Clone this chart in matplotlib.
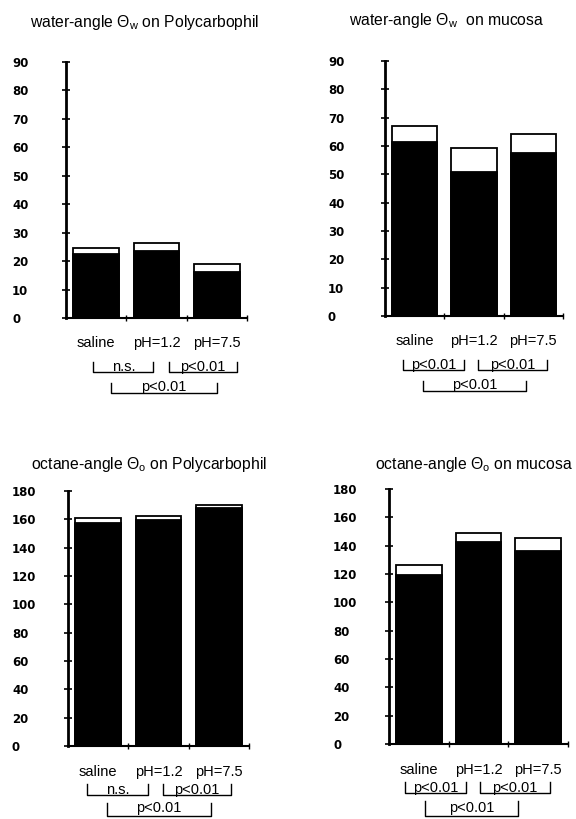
import matplotlib
matplotlib.use("Agg")
import matplotlib.pyplot as plt
from matplotlib.transforms import blended_transform_factory
import numpy as np

plt.rcParams['font.family'] = ['Liberation Sans', 'DejaVu Sans']
plt.rcParams['mathtext.fontset'] = 'custom'
plt.rcParams['mathtext.rm'] = 'Liberation Sans'
plt.rcParams['mathtext.it'] = 'Liberation Sans:italic'

categories = ["saline", "pH=1.2", "pH=7.5"]

# mean (black) and mean+SD (white top) values
water_pc_mean = [22.5, 23.7, 16.3]
water_pc_top = [24.7, 26.5, 19.0]
water_mu_mean = [61.3, 50.7, 57.5]
water_mu_top = [67.0, 59.4, 64.1]
oct_pc_mean = [157.6, 159.5, 168.2]
oct_pc_top = [160.6, 162.5, 170.3]
oct_mu_mean = [119.6, 142.9, 136.5]
oct_mu_top = [126.2, 149.2, 145.3]

titles = ["water-angle $\\Theta_{\\rm w}$ on Polycarbophil",
          "water-angle $\\Theta_{\\rm w}$  on mucosa",
          "octane-angle $\\Theta_{\\rm o}$ on Polycarbophil",
          "octane-angle $\\Theta_{\\rm o}$ on mucosa"]

water_ticks = list(range(0, 91, 10))
oct_ticks = list(range(0, 181, 20))

# significance labels: (x start, x end, row, text)
sig_pc_w = [(0.45, 1.45, 0, "n.s."), (1.70, 2.83, 0, "p<0.01"), (0.75, 2.50, 1, "p<0.01")]
sig_mu_w = [(0.30, 1.33, 0, "p<0.01"), (1.57, 2.73, 0, "p<0.01"), (0.64, 2.38, 1, "p<0.01")]
sig_pc_o = [(0.32, 1.33, 0, "n.s."), (1.58, 2.70, 0, "p<0.01"), (0.65, 2.37, 1, "p<0.01")]
sig_mu_o = [(0.27, 1.29, 0, "p<0.01"), (1.53, 2.70, 0, "p<0.01"), (0.60, 2.16, 1, "p<0.01")]

W, H = 576, 819
fig = plt.figure(figsize=(W / 100, H / 100), dpi=100)

# axes boxes in pixels: left, right, top, bottom
boxes = [(66, 247, 62, 318), (385, 563, 61, 316), (68, 249, 491, 746), (389, 568, 489, 744)]
label_left = [12, 328, 12, 333]
title_pos = [(145, 22), (447, 21), (149, 465), (474, 464)]
# pixel offsets below axis: category label, then per row (tick top, line, text centre)
cat_off = [25, 25, 26, 26]
row_off = [
    [(44, 54, 49), (65, 75, 69)],
    [(44, 54, 49), (65, 75, 69)],
    [(38, 49, 44), (57, 70, 62)],
    [(38, 49, 44), (57, 72, 64)],
]

panels = [
    (water_pc_mean, water_pc_top, water_ticks, 90, sig_pc_w),
    (water_mu_mean, water_mu_top, water_ticks, 90, sig_mu_w),
    (oct_pc_mean, oct_pc_top, oct_ticks, 180, sig_pc_o),
    (oct_mu_mean, oct_mu_top, oct_ticks, 180, sig_mu_o),
]

for i, (mean, top, ticks, ymax, sigs) in enumerate(panels):
    l, r, t, b = boxes[i]
    ax = fig.add_axes([l / W, 1 - b / H, (r - l) / W, (b - t) / H])
    x = np.arange(len(categories)) + 0.5
    ax.bar(x, top, width=0.76, color='white', edgecolor='black', linewidth=1.3, zorder=2)
    ax.bar(x, mean, width=0.76, color='black', edgecolor='black', linewidth=1.3, zorder=3)
    ax.set_xlim(0, 3)
    ax.set_ylim(0, ymax)
    for s in ['top', 'right']:
        ax.spines[s].set_visible(False)
    ax.spines['left'].set_linewidth(2.0)
    ax.spines['bottom'].set_linewidth(1.5)
    ax.set_yticks(ticks)
    ax.set_yticklabels([str(v) for v in ticks])
    pad_pt = (l - label_left[i]) * 0.72 - 3
    ax.tick_params(axis='y', direction='inout', length=6, width=1.2, pad=pad_pt)
    for lab in ax.get_yticklabels():
        lab.set_ha('left')
        lab.set_fontweight('bold')
        lab.set_fontsize(8.5)
        lab.set_fontfamily(['DejaVu Sans'])
    ax.set_xticks([1, 2, 3])
    ax.set_xticklabels([])
    ax.tick_params(axis='x', direction='inout', length=5, width=1.0)
    # category labels
    trans = blended_transform_factory(ax.transData, ax.transAxes)
    ah = b - t
    for xi, c in zip(x, categories):
        ax.text(xi, -cat_off[i] / ah, c, transform=trans, ha='center', va='center',
                fontsize=10.5)
    # significance brackets
    for (x0, x1, row, txt) in sigs:
        yt, yl, yc = row_off[i][row]
        ax.plot([x0, x0, x1, x1], [-yt / ah, -yl / ah, -yl / ah, -yt / ah], color='black',
                lw=1.0, transform=trans, clip_on=False)
        ax.text((x0 + x1) / 2, -yc / ah, txt, transform=trans,
                ha='center', va='center', fontsize=10.5)
    tx, ty = title_pos[i]
    fig.text(tx / W, 1 - ty / H, titles[i], ha='center', va='center', fontsize=11.3)

fig.savefig("out.png", dpi=100)
